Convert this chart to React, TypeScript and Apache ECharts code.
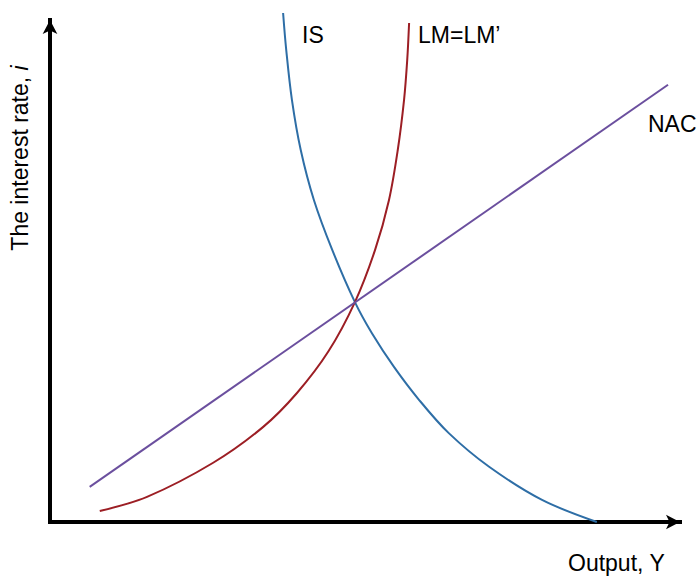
import React, { useEffect, useRef } from "react";
import * as echarts from "echarts";

// Curves (x: output, y: interest rate; axis range 0..100)
const isCurve: [number, number][] = [
  [37.0, 101.4], [37.5, 94.0], [38.4, 84.1], [39.8, 74.1], [41.9, 64.1],
  [44.8, 54.2], [48.4, 43.8], [51.1, 37.6], [54.6, 30.9], [58.6, 24.3],
  [63.3, 17.7], [69.7, 11.0], [78.1, 4.4], [86.8, 0],
];
const lmCurve: [number, number][] = [
  [7.9, 2.2], [15.4, 5.0], [25.9, 11.8], [33.8, 18.9], [39.2, 25.7],
  [44.2, 34.0], [48.4, 43.8], [51.6, 54.2], [53.8, 64.1], [55.2, 74.1],
  [56.2, 84.1], [56.7, 92.0], [57.0, 99.4],
];
const nacLine: [number, number][] = [
  [6.3, 7.0], [98.1, 87.1],
];
const curveLabels = ["IS", "LM=LM’", "NAC"];
const xAxisTitle = "Output, Y";
const yAxisTitle = "The interest rate, {it|i}";

const FONT = '23px "Liberation Sans", Arial, sans-serif';

export default function App() {
  const ref = useRef<HTMLDivElement>(null);
  useEffect(() => {
    document.body.style.margin = "0";
    if (!ref.current) return;
    const chart = echarts.init(ref.current, null, { renderer: "svg" });
    const axisCommon = {
      type: "value" as const,
      min: 0,
      max: 100,
      splitLine: { show: false },
      axisTick: { show: false },
      axisLabel: { show: false },
      axisLine: {
        show: true,
        symbol: ["none", "arrow"],
        symbolSize: [11, 14],
        lineStyle: { color: "#000", width: 4, cap: "square" },
      },
    };
    chart.setOption({
      animation: false,
      backgroundColor: "#fff",
      grid: { left: 50, right: 17, top: 20, bottom: 54 },
      xAxis: axisCommon,
      yAxis: axisCommon,
      series: [
        {
          type: "line", data: isCurve, smooth: 0.34, symbol: "none", clip: false,
          lineStyle: { color: "#2e6ea6", width: 2 },
        },
        {
          type: "line", data: lmCurve, smooth: 0.34, symbol: "none", clip: false,
          lineStyle: { color: "#9c1e24", width: 2 },
        },
        {
          type: "line", data: nacLine, symbol: "none", clip: false,
          lineStyle: { color: "#6b4f9e", width: 2 },
        },
      ],
      graphic: [
        { type: "text", x: 302, y: 35, style: { text: curveLabels[0], font: FONT, fill: "#000", textVerticalAlign: "middle" } },
        { type: "text", x: 418, y: 35, style: { text: curveLabels[1], font: FONT, fill: "#000", textVerticalAlign: "middle" } },
        { type: "text", x: 648, y: 124, style: { text: curveLabels[2], font: FONT, fill: "#000", textVerticalAlign: "middle" } },
        { type: "text", x: 568, y: 563, style: { text: xAxisTitle, font: FONT, fill: "#000", textVerticalAlign: "middle" } },
        {
          type: "text", x: 20, y: 158, rotation: Math.PI / 2,
          style: {
            text: yAxisTitle, font: FONT, fill: "#000",
            textAlign: "center", textVerticalAlign: "middle",
            rich: { it: { font: 'italic 23px "Liberation Sans", Arial, sans-serif', fill: "#000" } },
          },
        },
      ],
    });
    return () => chart.dispose();
  }, []);
  return <div ref={ref} style={{ width: 697, height: 576 }} />;
}
